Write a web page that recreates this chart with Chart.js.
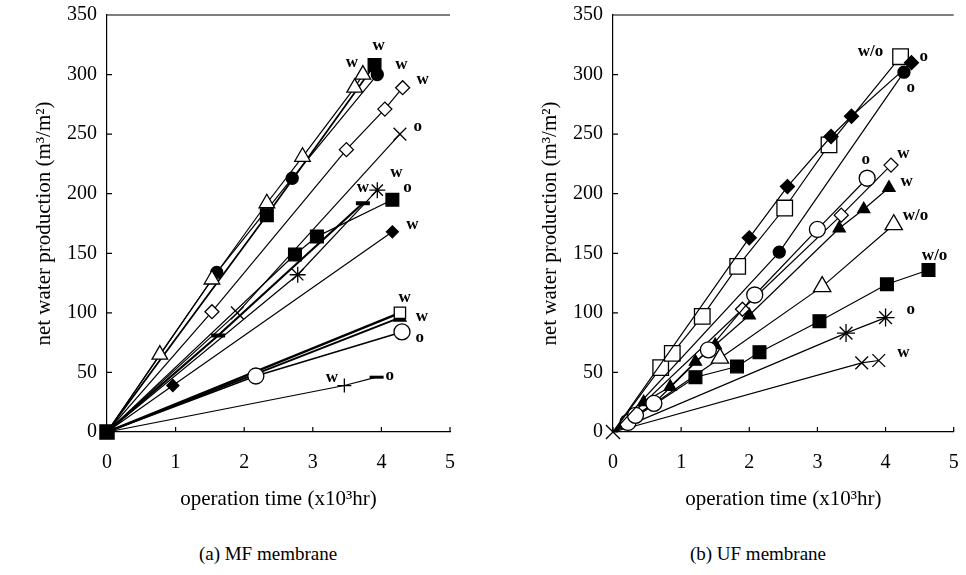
<!DOCTYPE html>
<html>
<head>
<meta charset="utf-8">
<script src="https://cdn.jsdelivr.net/npm/chart.js@4/dist/chart.umd.min.js"></script>
<style>
  body { margin: 0; background: #fff; width: 966px; height: 575px; position: relative; overflow: hidden; font-family: "Liberation Serif", serif; }
  .panel { position: absolute; top: 0; height: 520px; }
  #wrapA { left: 0; width: 470px; }
  #wrapB { left: 506px; width: 460px; }
  .caption { position: absolute; top: 543px; width: 240px; font-size: 19px; text-align: center; color: #000; }
</style>
</head>
<body>
<div class="panel" id="wrapA"><canvas id="chartA"></canvas></div>
<div class="panel" id="wrapB"><canvas id="chartB"></canvas></div>
<div class="caption" style="left:148px">(a) MF membrane</div>
<div class="caption" style="left:638px">(b) UF membrane</div>
<script>
// axis ticks
const xTicks = [0, 1, 2, 3, 4, 5];
const yTicks = [0, 50, 100, 150, 200, 250, 300, 350];

// (a) MF membrane  [time x10^3 hr, m3/m2]
const aTriOpen  = [[0,0],[0.77,65],[1.53,128],[2.33,192],[2.85,231],[3.61,289],[3.73,300]];
const aCircFill = [[0,0],[1.6,134],[2.7,213],[3.94,300]];
const aSqFill   = [[0,0],[2.33,182],[3.9,308]];
const aDiaOpen  = [[0,0],[1.53,101],[3.49,237],[4.05,271],[4.31,289]];
const aCross    = [[0,0],[1.9,100],[4.27,250]];
const aStar     = [[0,0],[2.78,132],[3.94,203]];
const aSqFill2  = [[0,0],[2.74,149],[3.06,164],[4.16,195]];
const aDash     = [[0,0],[1.62,81],[3.73,192]];
const aDiaFill  = [[0,0],[0.96,39],[4.16,168]];
const aCircOpen = [[0,0],[2.17,47],[4.3,84]];
const aSqOpen   = [[0,0],[4.27,100]];
const aTriFill  = [[0,0],[4.27,96]];
const aPlus     = [[0,0],[3.46,39],[3.93,46]];

const aTags  = ['w','w','w','w','o','w','w','o','w','w','w','o','w','o'];
const aTagAt = [[3.57,310],[3.96,324],[4.29,308],[4.6,296],[4.53,256],[4.22,218],[3.73,205],[4.38,205],[4.45,174],[4.34,113],[4.59,97],[4.56,79],[3.28,46],[4.12,47]];

// (b) UF membrane
const bDiaFill  = [[0,0],[2.0,163],[2.56,206],[3.2,248],[3.5,265],[4.38,310]];
const bCircFill = [[0,0],[2.44,151],[4.27,302]];
const bSqOpen   = [[0,0],[0.7,54],[0.87,66],[1.31,97],[1.83,139],[2.52,188],[3.17,241],[4.22,315]];
const bCircOpen = [[0,0],[0.22,8],[0.33,14],[0.6,24],[1.4,69],[2.08,115],[3.0,170],[3.73,213]];
const bDiaOpen  = [[0,0],[1.9,103],[3.35,182],[4.08,224]];
const bTriFill  = [[0,0],[0.45,25],[0.84,38],[1.21,59],[1.5,73],[2.0,98],[3.32,171],[3.68,187],[4.05,205]];
const bTriOpen  = [[0,0],[1.57,62],[3.07,122],[4.12,174]];
const bSqFill   = [[0,0],[1.21,46],[1.82,55],[2.15,67],[3.03,93],[4.02,124],[4.63,136]];
const bStar     = [[0,0],[3.42,83],[4.0,96]];
const bCross    = [[0,0],[3.65,58],[3.9,60]];

const bTags  = ['w/o','o','o','o','w','w','w/o','w/o','o','w'];
const bTagAt = [[3.78,319],[4.56,315],[4.37,289],[3.71,229],[4.26,234],[4.31,210],[4.44,182],[4.72,148],[4.37,103],[4.26,67]];

const origin = [[0,0]];

function toXY(arr) {
    return arr.map(p => ({ x: p[0], y: p[1] }));
}

// one series: line from origin, marker hidden at origin
function series(arr, style, filled, r, lw) {
    return {
        data: toXY(arr),
        showLine: true,
        borderColor: "#000",
        borderWidth: lw || 1.2,
        pointStyle: style,
        pointRadius: c => c.dataIndex === 0 ? 0 : r,
        pointBackgroundColor: filled ? "#000" : "#fff",
        pointBorderColor: "#000",
        pointBorderWidth: 1.3
    };
}

// marker sitting on the origin, drawn over the axes
function originMark(style, filled, r) {
    return Object.assign(series(origin, style, filled, r), { pointRadius: r, clip: false });
}

const frame = {
    id: "frame",
    afterDraw(chart, args, opts) {
        const { ctx, chartArea: a, scales: { x, y } } = chart;
        ctx.save();
        ctx.strokeStyle = "#000";
        ctx.lineWidth = 1.2;
        ctx.beginPath();
        x.ticks.forEach(t => {
            const px = x.getPixelForValue(t.value);
            ctx.moveTo(px, a.bottom);
            ctx.lineTo(px, a.bottom - 5);
        });
        y.ticks.forEach(t => {
            const py = y.getPixelForValue(t.value);
            ctx.moveTo(a.left, py);
            ctx.lineTo(a.left + 5, py);
        });
        ctx.moveTo(a.left, a.top);
        ctx.lineTo(a.right, a.top);
        ctx.stroke();

        ctx.fillStyle = "#000";
        ctx.font = "bold 17px 'Liberation Serif'";
        ctx.textAlign = "center";
        ctx.textBaseline = "middle";
        opts.tags.forEach((t, i) => {
            ctx.fillText(t, x.getPixelForValue(opts.at[i][0]), y.getPixelForValue(opts.at[i][1]));
        });
        ctx.restore();
    }
};

function makeChart(id, datasets, tags, at, padRight) {
    new Chart(document.getElementById(id), {
        type: "scatter",
        data: { datasets: datasets },
        options: {
            responsive: true,
            maintainAspectRatio: false,
            animation: false,
            events: [],
            layout: { padding: { top: 15, right: padRight, left: 0, bottom: 0 } },
            plugins: {
                legend: { display: false },
                tooltip: { enabled: false },
                frame: { tags: tags, at: at }
            },
            scales: {
                x: {
                    type: "linear",
                    min: 0,
                    max: 5,
                    afterBuildTicks: s => { s.ticks = xTicks.map(v => ({ value: v })); },
                    afterFit: s => { s.height = 88; },
                    grid: { drawOnChartArea: false, drawTicks: true, tickLength: 15, tickColor: "rgba(0,0,0,0)" },
                    border: { color: "#000", width: 1.2 },
                    ticks: { color: "#000", padding: 4, font: { family: "Liberation Serif", size: 20 } },
                    title: {
                        display: true,
                        text: "operation time (x10³hr)",
                        color: "#000",
                        padding: { top: 0, bottom: 8 },
                        font: { family: "Liberation Serif", size: 21 }
                    }
                },
                y: {
                    type: "linear",
                    min: 0,
                    max: 350,
                    afterBuildTicks: s => { s.ticks = yTicks.map(v => ({ value: v })); },
                    afterFit: s => { s.width = 107; },
                    grid: { drawOnChartArea: false, drawTicks: true, tickLength: 8, tickColor: "rgba(0,0,0,0)" },
                    border: { color: "#000", width: 1.2 },
                    ticks: { color: "#000", padding: 2, font: { family: "Liberation Serif", size: 20 } },
                    title: {
                        display: true,
                        text: "net water production (m³/m²)",
                        color: "#000",
                        padding: { top: 32, bottom: 0 },
                        font: { family: "Liberation Serif", size: 21 }
                    }
                }
            }
        },
        plugins: [frame]
    });
}

makeChart("chartA", [
    series(aTriOpen, "triangle", false, 9),
    series(aCircFill, "circle", true, 6),
    series(aSqFill, "rect", true, 9, 1.8),
    series(aDiaOpen, "rectRot", false, 7),
    series(aCross, "crossRot", false, 9),
    series(aStar, "star", false, 8),
    series(aSqFill2, "rect", true, 9),
    Object.assign(series(aDash, "line", true, 7, 2.2), { pointBorderWidth: 4 }),
    series(aDiaFill, "rectRot", true, 6),
    series(aCircOpen, "circle", false, 8, 1.6),
    series(aSqOpen, "rect", false, 8, 2.4),
    series(aTriFill, "triangle", true, 7, 2),
    Object.assign(series(aPlus, c => c.dataIndex === 2 ? "line" : "cross", true, 7), {
        pointBorderWidth: c => c.dataIndex === 2 ? 3 : 1.3
    }),
    originMark("rect", true, 10)
], aTags, aTagAt, 20);

makeChart("chartB", [
    series(bDiaFill, "rectRot", true, 7),
    series(bCircFill, "circle", true, 6),
    series(bSqOpen, "rect", false, 11),
    series(bCircOpen, "circle", false, 8),
    series(bDiaOpen, "rectRot", false, 7),
    series(bTriFill, "triangle", true, 7),
    series(bTriOpen, "triangle", false, 10),
    series(bSqFill, "rect", true, 9),
    series(bStar, "star", false, 9),
    series(bCross, "crossRot", false, 9),
    originMark("crossRot", false, 10)
], bTags, bTagAt, 10);
</script>
</body>
</html>
